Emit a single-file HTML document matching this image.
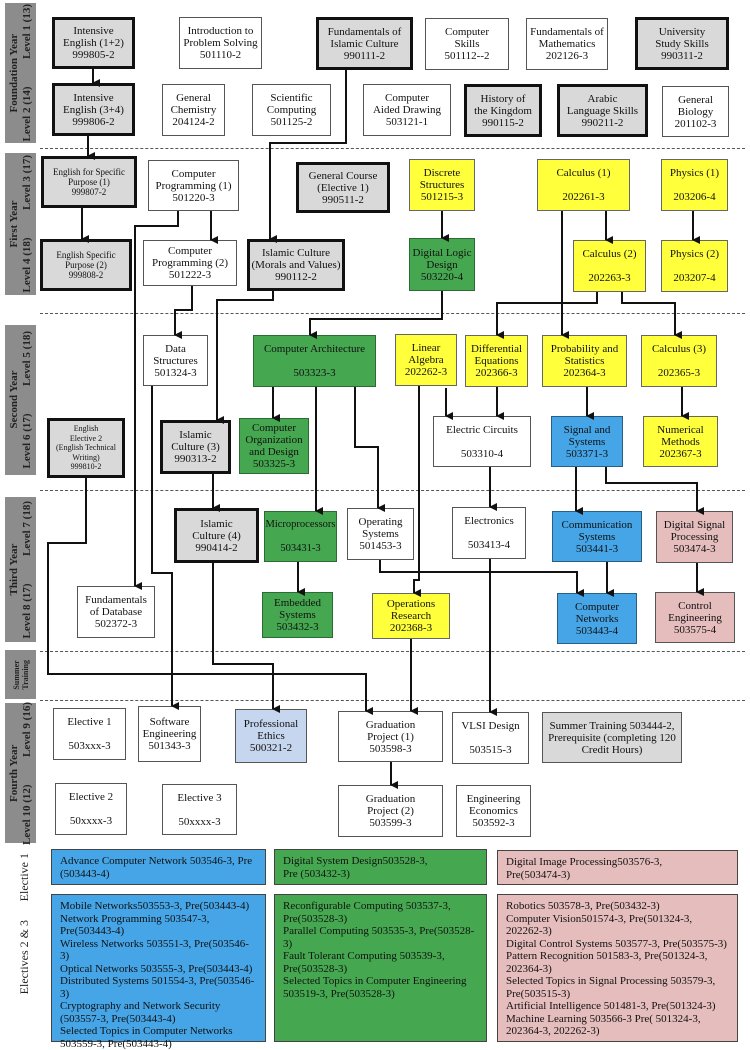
<!DOCTYPE html>
<html><head><meta charset="utf-8"><style>
body{margin:0;width:750px;height:1043px;background:#fff;position:relative;overflow:hidden;font-family:"Liberation Serif",serif;}
.b{position:absolute;box-sizing:border-box;border:1.5px solid #555;background:#fff;display:flex;align-items:center;justify-content:center;text-align:center;font-size:11px;line-height:12px;color:#111;}
.t{border:3.5px solid #111;background:#d9d9d9;}
.g{background:#d9d9d9;}
.y{background:#ffff3c;border-color:#666;}
.gr{background:#45a850;border-color:#2d6b35;}
.bl{background:#45a5e6;border-color:#2a5f85;}
.pk{background:#e5bdbd;border-color:#555;}
.lb{background:#c6d6ef;}
.s{font-size:9px;line-height:10px;}
.side{position:absolute;background:#8c8c8c;left:5px;width:31px;display:flex;align-items:center;justify-content:center;}
.side div{writing-mode:vertical-rl;transform:rotate(180deg);font-weight:bold;font-size:11px;line-height:13px;white-space:pre;color:#222;text-align:center;}
.dash{position:absolute;left:40px;width:705px;border-top:1.5px dashed #555;height:0;}
.el{position:absolute;box-sizing:border-box;border:1.5px solid #444;font-size:11px;line-height:12.5px;padding:5px 8px;color:#111;}
.lbl{position:absolute;writing-mode:vertical-rl;transform:rotate(180deg);font-size:12px;color:#222;}
</style></head><body>

<div class="side" style="top:3px;height:140px"><div>Foundation Year
Level 2 (14)          Level 1 (13)</div></div>
<div class="side" style="top:153px;height:142px"><div>First Year
Level 4 (18)          Level 3 (17)</div></div>
<div class="side" style="top:325px;height:150px"><div>Second Year
Level 6 (17)          Level 5 (18)</div></div>
<div class="side" style="top:497px;height:145px"><div>Third Year
Level 8 (17)          Level 7 (18)</div></div>
<div class="side" style="top:650px;height:49px"><div style="font-size:8px;line-height:9px">Summer
Training</div></div>
<div class="side" style="top:703px;height:140px"><div>Fourth Year
Level 10 (12)          Level 9 (16)</div></div>
<div class="lbl" style="left:17px;top:853px">Elective 1</div>
<div class="lbl" style="left:17px;top:920px">Electives 2 &amp; 3</div>

<div class="dash" style="top:148px"></div>
<div class="dash" style="top:313px"></div>
<div class="dash" style="top:490px"></div>
<div class="dash" style="top:651px"></div>
<div class="dash" style="top:700px"></div>

<!-- Row 1 -->
<div class="b t" style="left:52px;top:17px;width:83px;height:52px">Intensive<br>English (1+2)<br>999805-2</div>
<div class="b" style="left:179px;top:17px;width:83px;height:52px">Introduction to<br>Problem Solving<br>501110-2</div>
<div class="b t" style="left:316px;top:17px;width:97px;height:53px;align-items:flex-start;padding-top:6px">Fundamentals of<br>Islamic Culture<br>990111-2</div>
<div class="b" style="left:425px;top:18px;width:84px;height:52px">Computer<br>Skills<br>501112--2</div>
<div class="b" style="left:526px;top:18px;width:82px;height:52px">Fundamentals of<br>Mathematics<br>202126-3</div>
<div class="b t" style="left:635px;top:17px;width:94px;height:53px">University<br>Study Skills<br>990311-2</div>
<!-- Row 2 -->
<div class="b t" style="left:52px;top:83px;width:83px;height:53px">Intensive<br>English (3+4)<br>999806-2</div>
<div class="b" style="left:162px;top:84px;width:63px;height:52px">General<br>Chemistry<br>204124-2</div>
<div class="b" style="left:252px;top:84px;width:79px;height:52px">Scientific<br>Computing<br>501125-2</div>
<div class="b" style="left:363px;top:84px;width:88px;height:52px">Computer<br>Aided Drawing<br>503121-1</div>
<div class="b t" style="left:464px;top:84px;width:78px;height:53px">History of<br>the Kingdom<br>990115-2</div>
<div class="b t" style="left:557px;top:84px;width:91px;height:53px">Arabic<br>Language Skills<br>990211-2</div>
<div class="b" style="left:662px;top:86px;width:67px;height:51px">General<br>Biology<br>201102-3</div>
<!-- Level 3 -->
<div class="b t s" style="left:41px;top:156px;width:96px;height:52px">English for Specific<br>Purpose (1)<br>999807-2</div>
<div class="b" style="left:148px;top:160px;width:91px;height:51px">Computer<br>Programming (1)<br>501220-3</div>
<div class="b t" style="left:296px;top:162px;width:94px;height:51px">General Course<br>(Elective 1)<br>990511-2</div>
<div class="b y" style="left:409px;top:159px;width:66px;height:52px">Discrete<br>Structures<br>501215-3</div>
<div class="b y" style="left:537px;top:159px;width:93px;height:52px">Calculus (1)<br><br>202261-3</div>
<div class="b y" style="left:661px;top:159px;width:67px;height:52px">Physics (1)<br><br>203206-4</div>
<!-- Level 4 -->
<div class="b t s" style="left:40px;top:239px;width:92px;height:52px">English Specific<br>Purpose (2)<br>999808-2</div>
<div class="b" style="left:143px;top:240px;width:94px;height:46px">Computer<br>Programming (2)<br>501222-3</div>
<div class="b t" style="left:247px;top:239px;width:98px;height:52px">Islamic Culture<br>(Morals and Values)<br>990112-2</div>
<div class="b gr" style="left:409px;top:238px;width:66px;height:53px">Digital Logic<br>Design<br>503220-4</div>
<div class="b y" style="left:573px;top:240px;width:73px;height:52px">Calculus (2)<br><br>202263-3</div>
<div class="b y" style="left:661px;top:240px;width:67px;height:52px">Physics (2)<br><br>203207-4</div>
<!-- Level 5 -->
<div class="b" style="left:143px;top:335px;width:65px;height:51px">Data<br>Structures<br>501324-3</div>
<div class="b gr" style="left:253px;top:335px;width:123px;height:52px">Computer Architecture<br><br>503323-3</div>
<div class="b y" style="left:395px;top:334px;width:62px;height:52px">Linear<br>Algebra<br>202262-3</div>
<div class="b y" style="left:465px;top:335px;width:63px;height:52px">Differential<br>Equations<br>202366-3</div>
<div class="b y" style="left:542px;top:335px;width:85px;height:52px">Probability and<br>Statistics<br>202364-3</div>
<div class="b y" style="left:641px;top:335px;width:76px;height:52px">Calculus (3)<br><br>202365-3</div>
<!-- Level 6 -->
<div class="b t" style="left:47px;top:418px;width:78px;height:60px;font-size:8px;line-height:9.5px">English<br>Elective 2<br>(English Technical<br>Writing)<br>999810-2</div>
<div class="b t" style="left:160px;top:420px;width:71px;height:54px">Islamic<br>Culture (3)<br>990313-2</div>
<div class="b gr" style="left:239px;top:418px;width:70px;height:56px">Computer<br>Organization<br>and Design<br>503325-3</div>
<div class="b" style="left:433px;top:416px;width:98px;height:51px">Electric Circuits<br><br>503310-4</div>
<div class="b bl" style="left:551px;top:416px;width:72px;height:51px">Signal and<br>Systems<br>503371-3</div>
<div class="b y" style="left:643px;top:416px;width:75px;height:51px">Numerical<br>Methods<br>202367-3</div>
<!-- Level 7 -->
<div class="b t" style="left:174px;top:508px;width:85px;height:55px">Islamic<br>Culture (4)<br>990414-2</div>
<div class="b gr" style="left:264px;top:511px;width:73px;height:51px;font-size:10.5px">Microprocessors<br><br>503431-3</div>
<div class="b" style="left:347px;top:508px;width:67px;height:52px">Operating<br>Systems<br>501453-3</div>
<div class="b" style="left:452px;top:507px;width:74px;height:52px">Electronics<br><br>503413-4</div>
<div class="b bl" style="left:552px;top:511px;width:90px;height:51px">Communication<br>Systems<br>503441-3</div>
<div class="b pk" style="left:656px;top:511px;width:77px;height:52px">Digital Signal<br>Processing<br>503474-3</div>
<!-- Level 8 -->
<div class="b" style="left:77px;top:586px;width:78px;height:52px">Fundamentals<br>of Database<br>502372-3</div>
<div class="b gr" style="left:262px;top:592px;width:71px;height:46px">Embedded<br>Systems<br>503432-3</div>
<div class="b y" style="left:372px;top:593px;width:78px;height:46px">Operations<br>Research<br>202368-3</div>
<div class="b bl" style="left:557px;top:593px;width:80px;height:51px">Computer<br>Networks<br>503443-4</div>
<div class="b pk" style="left:655px;top:592px;width:80px;height:51px">Control<br>Engineering<br>503575-4</div>
<!-- Level 9 -->
<div class="b" style="left:53px;top:708px;width:73px;height:52px">Elective 1<br><br>503xxx-3</div>
<div class="b" style="left:138px;top:706px;width:63px;height:56px">Software<br>Engineering<br>501343-3</div>
<div class="b lb" style="left:235px;top:709px;width:72px;height:54px">Professional<br>Ethics<br>500321-2</div>
<div class="b" style="left:338px;top:711px;width:105px;height:51px">Graduation<br>Project (1)<br>503598-3</div>
<div class="b" style="left:452px;top:712px;width:77px;height:52px">VLSI Design<br><br>503515-3</div>
<div class="b g" style="left:542px;top:712px;width:140px;height:51px">Summer Training 503444-2,<br>Prerequisite (completing 120<br>Credit Hours)</div>
<!-- Level 10 -->
<div class="b" style="left:55px;top:783px;width:72px;height:52px">Elective 2<br><br>50xxxx-3</div>
<div class="b" style="left:162px;top:784px;width:75px;height:51px">Elective 3<br><br>50xxxx-3</div>
<div class="b" style="left:338px;top:785px;width:105px;height:52px">Graduation<br>Project (2)<br>503599-3</div>
<div class="b" style="left:456px;top:785px;width:75px;height:52px">Engineering<br>Economics<br>503592-3</div>

<!-- Electives -->
<div class="el bl" style="left:51px;top:849px;width:215px;height:36px">Advance Computer Network 503546-3, Pre (503443-4)</div>
<div class="el gr" style="left:274px;top:849px;width:213px;height:36px">Digital System Design503528-3,<br>Pre (503432-3)</div>
<div class="el pk" style="left:497px;top:850px;width:241px;height:35px">Digital Image Processing503576-3,<br>Pre(503474-3)</div>
<div class="el bl" style="left:51px;top:894px;width:215px;height:148px">Mobile Networks503553-3, Pre(503443-4)<br>Network Programming 503547-3, Pre(503443-4)<br>Wireless Networks 503551-3, Pre(503546-3)<br>Optical Networks 503555-3, Pre(503443-4)<br>Distributed Systems 501554-3, Pre(503546-3)<br>Cryptography and Network Security (503557-3, Pre(503443-4)<br>Selected Topics in Computer Networks 503559-3, Pre(503443-4)</div>
<div class="el gr" style="left:274px;top:894px;width:213px;height:148px">Reconfigurable Computing 503537-3, Pre(503528-3)<br>Parallel Computing 503535-3, Pre(503528-3)<br>Fault Tolerant Computing 503539-3, Pre(503528-3)<br>Selected Topics in Computer Engineering 503519-3, Pre(503528-3)</div>
<div class="el pk" style="left:497px;top:894px;width:241px;height:148px">Robotics 503578-3, Pre(503432-3)<br>Computer Vision501574-3, Pre(501324-3, 202262-3)<br>Digital Control Systems 503577-3, Pre(503575-3)<br>Pattern Recognition 501583-3, Pre(501324-3, 202364-3)<br>Selected Topics in Signal Processing 503579-3, Pre(503515-3)<br>Artificial Intelligence 501481-3, Pre(501324-3)<br>Machine Learning 503566-3 Pre( 501324-3, 202364-3, 202262-3)</div>

<svg width="750" height="1043" style="position:absolute;left:0;top:0;pointer-events:none">
<defs><marker id="a" markerWidth="8" markerHeight="8" refX="4" refY="7" orient="auto" markerUnits="userSpaceOnUse" viewBox="0 0 8 8"><path d="M0,0 L8,0 L4,8 z" fill="#111"/></marker></defs>
<g fill="none" stroke="#111" stroke-width="2" marker-end="url(#a)">
<polyline points="93,69 93,83"/>
<polyline points="88,136 88,156"/>
<polyline points="82,208 82,239"/>
<polyline points="211,211 211,240"/>
<polyline points="178,211 178,226 135,226 135,586"/>
<polyline points="192,286 192,310 175,310 175,335"/>
<polyline points="346,70 346,143 270,143 270,239"/>
<polyline points="273,291 273,300 217,300 217,420"/>
<polyline points="213,474 213,508"/>
<polyline points="442,211 442,238"/>
<polyline points="442,291 442,319 310,319 310,335"/>
<polyline points="606,211 606,240"/>
<polyline points="562,211 562,335"/>
<polyline points="597,292 597,303 497,303 497,335"/>
<polyline points="622,292 622,303 675,303 675,335"/>
<polyline points="693,211 693,240"/>
<polyline points="273,387 273,418"/>
<polyline points="316,387 316,511"/>
<polyline points="355,387 355,447 378,447 378,508"/>
<polyline points="419,386 419,580 414,580 414,593"/>
<polyline points="446,388 446,416"/>
<polyline points="497,387 497,416"/>
<polyline points="587,387 587,416"/>
<polyline points="682,387 682,416"/>
<polyline points="490,467 490,507"/>
<polyline points="576,467 576,511"/>
<polyline points="606,467 606,483 697,483 697,511"/>
<polyline points="607,562 607,593"/>
<polyline points="380,560 380,572 577,572 577,593"/>
<polyline points="697,563 697,592"/>
<polyline points="298,562 298,592"/>
<polyline points="86,478 86,543 48,543 48,674 366,674 366,711"/>
<polyline points="152,386 152,573 172,573 172,706"/>
<polyline points="213,563 213,664 273,664 273,709"/>
<polyline points="411,639 411,711"/>
<polyline points="490,559 490,712"/>
<polyline points="391,762 391,785"/>
</g>
</svg>
</body></html>
